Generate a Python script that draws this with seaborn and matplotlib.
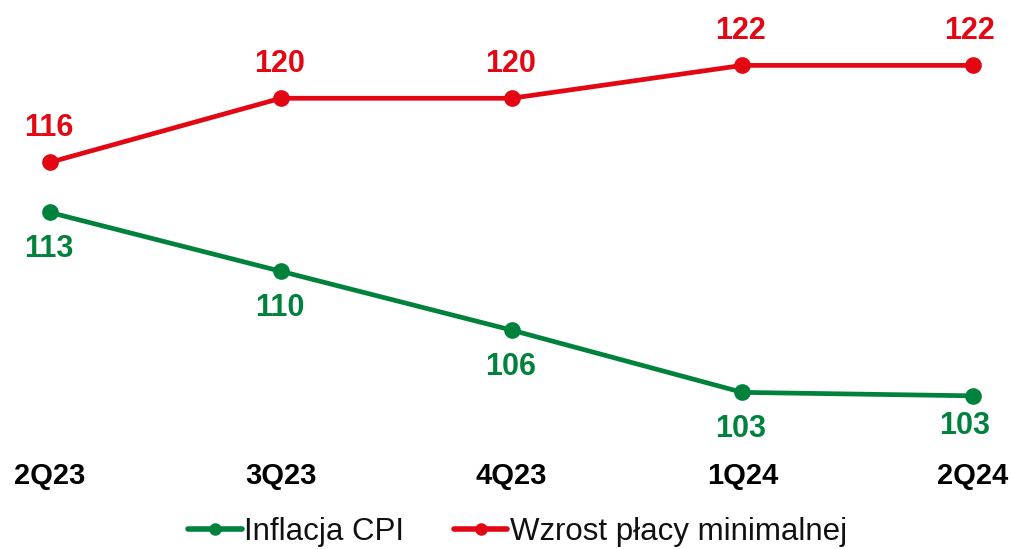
import matplotlib
matplotlib.use('Agg')
import matplotlib.pyplot as plt
import seaborn as sns
import pandas as pd
from matplotlib.lines import Line2D

quarters = ['2Q23', '3Q23', '4Q23', '1Q24', '2Q24']
cpi = [113.2, 109.8, 106.4, 102.8, 102.6]
wage = [116.1, 119.8, 119.8, 121.7, 121.7]
series_names = ['Inflacja CPI', 'Wzrost płacy minimalnej']
green = '#00823C'
red = '#E30613'
palette = {series_names[0]: green, series_names[1]: red}

df = pd.DataFrame({
    'quarter': quarters * 2,
    'value': cpi + wage,
    'series': [series_names[0]] * len(cpi) + [series_names[1]] * len(wage),
})

sns.set_theme(style='white')
plt.rcParams['font.family'] = ['Liberation Sans', 'DejaVu Sans']

W, H = 1013, 549
fig = plt.figure(figsize=(W / 100, H / 100), dpi=100)
ax = fig.add_axes([0, 94 / H, 1, 455 / H])

sns.lineplot(data=df, x='quarter', y='value', hue='series', palette=palette,
             marker='o', markersize=12, markeredgewidth=0, linewidth=3.4,
             sort=False, legend=False, ax=ax)
for ln in ax.lines:
    ln.set_clip_on(False)

ax.set_xlim(-0.2167, 4.173)
ax.set_ylim(99.18, 125.48)
for s in ax.spines.values():
    s.set_visible(False)
ax.set_yticks([])
ax.set_xlabel('')
ax.set_ylabel('')
ax.tick_params(axis='x', length=0, pad=5, labelsize=21, colors='black')
for t in ax.get_xticklabels():
    t.set_fontweight('bold')

n = len(quarters)
for i, v in enumerate(wage):
    dx = -2.5 if i == n - 1 else -1
    ax.annotate(f"{v:.0f}", (i, v), xytext=(dx, 24.5), textcoords='offset points',
                ha='center', va='center', color=red, fontsize=22, fontweight='bold',
                annotation_clip=False)
for i, v in enumerate(cpi):
    dx = -6 if i == n - 1 else -1
    dy = -21.5 if i == n - 1 else -26.5
    ax.annotate(f"{v:.0f}", (i, v), xytext=(dx, dy), textcoords='offset points',
                ha='center', va='center', color=green, fontsize=22, fontweight='bold',
                annotation_clip=False)

handles = [Line2D([], [], color=palette[s], lw=4, marker='o', markersize=9,
                  markeredgewidth=0) for s in series_names]
leg = fig.legend(handles, series_names, loc='center', bbox_to_anchor=(0.511, 1 - 532 / H),
                 ncol=2, frameon=False, fontsize=22.5, handlelength=1.7,
                 handletextpad=0.08, columnspacing=1.6, borderpad=0, borderaxespad=0)
for t in leg.get_texts():
    t.set_color('#111111')

fig.savefig('out.png', dpi=100)
